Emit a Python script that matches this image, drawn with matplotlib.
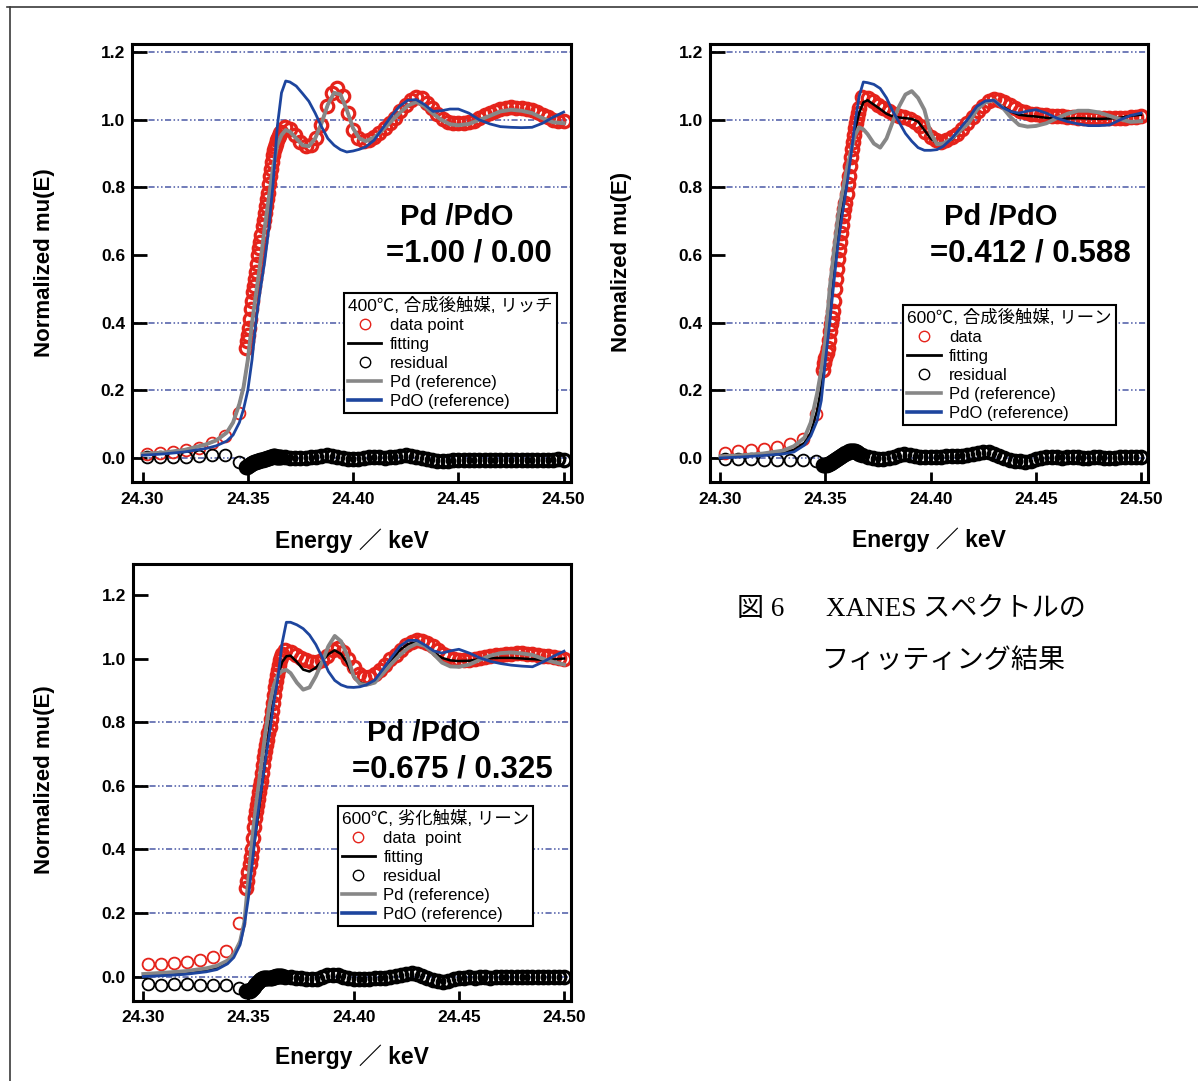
import matplotlib
matplotlib.use("Agg")
import matplotlib.pyplot as plt
from matplotlib import font_manager
from matplotlib.lines import Line2D

W, H = 1198, 1081
DPI = 100

# energy grid of the reference and fitting curves (keV)
E_LINE = [24.300, 24.310, 24.320, 24.330, 24.335, 24.340, 24.343, 24.346, 24.348,
          24.350, 24.352, 24.354, 24.356, 24.358, 24.360, 24.362, 24.364, 24.366, 24.368,
          24.370, 24.373, 24.376, 24.379, 24.382, 24.385, 24.388, 24.391, 24.394, 24.397,
          24.400, 24.403, 24.406, 24.410, 24.414, 24.418, 24.422, 24.426, 24.430, 24.434,
          24.438, 24.442, 24.446, 24.450, 24.455, 24.460, 24.465, 24.470, 24.475, 24.480,
          24.485, 24.490, 24.495, 24.500]

# energy points of the measured spectrum (pre-edge, edge, post-edge)
E_DATA = ([24.3022, 24.3084, 24.3146, 24.3208, 24.3270, 24.3332, 24.3394, 24.3456]
          + [24.3490, 24.3495, 24.3500, 24.3505, 24.3510, 24.3515, 24.3520, 24.3525, 24.3530, 24.3535,
             24.3540, 24.3545, 24.3550, 24.3555, 24.3560, 24.3565, 24.3570, 24.3575, 24.3580, 24.3585,
             24.3590, 24.3595, 24.3600, 24.3605, 24.3610, 24.3615, 24.3620, 24.3625, 24.3630, 24.3635,
             24.3640, 24.3645, 24.3650, 24.3655, 24.3660]
          + [24.3675, 24.3700, 24.3725, 24.3750, 24.3775, 24.3800, 24.3825, 24.3850, 24.3875, 24.3900,
             24.3925, 24.3950, 24.3975, 24.4000, 24.4025, 24.4050, 24.4075, 24.4100, 24.4125, 24.4150,
             24.4175, 24.4200, 24.4225, 24.4250, 24.4275, 24.4300, 24.4325, 24.4350, 24.4375, 24.4400,
             24.4425, 24.4450, 24.4475, 24.4500, 24.4525, 24.4550, 24.4575, 24.4600, 24.4625, 24.4650,
             24.4675, 24.4700, 24.4725, 24.4750, 24.4775, 24.4800, 24.4825, 24.4850, 24.4875, 24.4900,
             24.4925, 24.4950, 24.4975, 24.5000])
N_PRE = 8  # sparse pre-edge points before the dense scan

# ---- panel 1 : 400C, as-synthesised, rich ----
PD_1 = [0.012, 0.016, 0.024, 0.040, 0.052, 0.075, 0.105, 0.16, 0.21,
        0.29, 0.40, 0.49, 0.58, 0.68, 0.77, 0.86, 0.925, 0.955, 0.970,
        0.965, 0.945, 0.925, 0.922, 0.945, 0.99, 1.045, 1.08, 1.075, 1.03,
        0.975, 0.945, 0.937, 0.948, 0.97, 0.995, 1.02, 1.042, 1.053, 1.04,
        1.018, 1.0, 0.987, 0.984, 0.988, 1.0, 1.012, 1.025, 1.03, 1.027,
        1.02, 1.005, 0.993, 0.99]
PDO_1 = [0.008, 0.012, 0.018, 0.028, 0.036, 0.05, 0.068, 0.105, 0.145,
         0.20, 0.29, 0.41, 0.50, 0.58, 0.68, 0.81, 0.98, 1.08, 1.115,
         1.112, 1.10, 1.078, 1.055, 1.02, 0.98, 0.945, 0.925, 0.912, 0.905,
         0.908, 0.913, 0.92, 0.94, 0.975, 1.01, 1.04, 1.058, 1.06, 1.045,
         1.025, 1.027, 1.032, 1.032, 1.02, 1.0, 0.988, 0.98, 0.978, 0.977,
         0.978, 0.99, 1.008, 1.023]
FIT_1 = PD_1  # Pd/PdO = 1.00 / 0.00
DATA_1 = ([0.013, 0.016, 0.018, 0.023, 0.030, 0.045, 0.065, 0.133]
          + [0.325, 0.345, 0.365, 0.385, 0.41, 0.44, 0.465, 0.49, 0.51, 0.53,
             0.55, 0.575, 0.60, 0.62, 0.64, 0.66, 0.685, 0.705, 0.725, 0.745,
             0.765, 0.785, 0.81, 0.835, 0.855, 0.875, 0.895, 0.91, 0.92, 0.93,
             0.94, 0.945, 0.952, 0.96, 0.965]
          + [0.978, 0.972, 0.955, 0.935, 0.922, 0.925, 0.945, 0.985, 1.04, 1.08,
             1.095, 1.07, 1.02, 0.97, 0.945, 0.937, 0.94, 0.95, 0.962, 0.975,
             0.99, 1.005, 1.025, 1.045, 1.06, 1.068, 1.065, 1.05, 1.035, 1.018,
             1.003, 0.995, 0.99, 0.99, 0.99, 0.993, 0.998, 1.005, 1.013, 1.02,
             1.027, 1.032, 1.035, 1.037, 1.036, 1.035, 1.033, 1.028, 1.022, 1.015,
             1.008, 1.0, 0.996, 0.998])
RES_1 = ([0.003, 0.004, 0.004, 0.004, 0.005, 0.008, 0.010, -0.011]
         + [-0.028, -0.026, -0.024, -0.022, -0.02, -0.018, -0.016, -0.014, -0.013, -0.012,
            -0.011, -0.01, -0.009, -0.008, -0.007, -0.006, -0.005, -0.004, -0.003, -0.002,
            -0.001, 0.0, 0.001, 0.002, 0.003, 0.004, 0.005, 0.005, 0.005, 0.004,
            0.004, 0.003, 0.003, 0.003, 0.003]
         + [0.002, 0.001, 0.0, 0.0, 0.001, 0.002, 0.004, 0.007, 0.008, 0.006,
            0.003, 0.0, -0.002, -0.003, -0.002, 0.0, 0.002, 0.003, 0.002, 0.001,
            0.002, 0.004, 0.006, 0.008, 0.007, 0.004, 0.0, -0.004, -0.007, -0.009,
            -0.009, -0.008, -0.007, -0.006, -0.006, -0.005, -0.006, -0.005, -0.005, -0.006,
            -0.006, -0.005, -0.005, -0.006, -0.006, -0.005, -0.005, -0.006, -0.006, -0.005,
            -0.006, -0.005, -0.004, -0.005])

# ---- panel 2 : 600C, as-synthesised, lean ----
PD_2 = [0.005, 0.008, 0.013, 0.022, 0.035, 0.06, 0.105, 0.19, 0.26,
        0.35, 0.50, 0.61, 0.715, 0.785, 0.85, 0.905, 0.955, 0.978, 0.972,
        0.958, 0.93, 0.918, 0.945, 0.995, 1.04, 1.075, 1.085, 1.065, 1.03,
        0.96, 0.928, 0.93, 0.945, 0.968, 0.99, 1.03, 1.052, 1.058, 1.038,
        1.008, 0.985, 0.98, 0.982, 0.99, 1.005, 1.018, 1.027, 1.027, 1.022,
        1.012, 1.002, 0.994, 0.996]
PDO_2 = [0.0, 0.003, 0.007, 0.012, 0.018, 0.038, 0.065, 0.11, 0.17,
         0.29, 0.40, 0.52, 0.635, 0.72, 0.80, 0.89, 0.99, 1.07, 1.112,
         1.11, 1.105, 1.093, 1.065, 1.025, 0.993, 0.96, 0.937, 0.918, 0.91,
         0.91, 0.912, 0.922, 0.945, 0.975, 1.005, 1.04, 1.056, 1.058, 1.037,
         1.025, 1.02, 1.026, 1.03, 1.02, 1.005, 0.995, 0.988, 0.983, 0.983,
         0.985, 1.0, 1.013, 1.02]
FIT_2 = [0.003, 0.005, 0.009, 0.016, 0.024, 0.045, 0.075, 0.14, 0.21,
         0.33, 0.44, 0.545, 0.655, 0.745, 0.825, 0.905, 0.97, 1.02, 1.052,
         1.058, 1.045, 1.032, 1.018, 1.01, 1.007, 1.005, 1.003, 0.995, 0.97,
         0.945, 0.93, 0.93, 0.942, 0.965, 0.993, 1.03, 1.053, 1.058, 1.04,
         1.025, 1.015, 1.012, 1.01, 1.006, 1.003, 1.004, 1.005, 1.004, 1.003,
         1.004, 1.006, 1.012, 1.015]
DATA_2 = ([0.015, 0.022, 0.025, 0.028, 0.033, 0.042, 0.055, 0.13]
          + [0.26, 0.28, 0.295, 0.31, 0.325, 0.35, 0.375, 0.395, 0.415, 0.435,
             0.465, 0.50, 0.53, 0.56, 0.59, 0.615, 0.64, 0.665, 0.69, 0.715,
             0.735, 0.755, 0.78, 0.81, 0.835, 0.865, 0.89, 0.915, 0.935, 0.955,
             0.975, 0.99, 1.005, 1.02, 1.035]
          + [1.068, 1.065, 1.055, 1.045, 1.035, 1.025, 1.018, 1.012, 1.008, 1.003,
             0.995, 0.982, 0.965, 0.95, 0.94, 0.936, 0.94, 0.948, 0.958, 0.972,
             0.99, 1.008, 1.025, 1.042, 1.055, 1.062, 1.06, 1.052, 1.044, 1.035,
             1.027, 1.022, 1.018, 1.016, 1.015, 1.013, 1.012, 1.011, 1.01, 1.009,
             1.008, 1.007, 1.006, 1.006, 1.005, 1.005, 1.005, 1.006, 1.006, 1.006,
             1.007, 1.008, 1.009, 1.01])
RES_2 = ([-0.002, -0.004, -0.004, -0.005, -0.005, -0.005, -0.006, -0.008]
         + [-0.022, -0.022, -0.021, -0.02, -0.019, -0.018, -0.016, -0.014, -0.012, -0.01,
            -0.008, -0.006, -0.004, -0.002, 0.0, 0.002, 0.004, 0.006, 0.008, 0.01,
            0.012, 0.014, 0.016, 0.018, 0.02, 0.021, 0.022, 0.022, 0.022, 0.021,
            0.02, 0.019, 0.017, 0.015, 0.013]
         + [0.008, 0.004, 0.0, -0.002, -0.002, 0.0, 0.004, 0.009, 0.012, 0.01,
            0.006, 0.003, 0.002, 0.002, 0.003, 0.004, 0.005, 0.005, 0.005, 0.006,
            0.008, 0.011, 0.015, 0.018, 0.017, 0.013, 0.007, 0.0, -0.005, -0.008,
            -0.01, -0.011, -0.009, -0.004, 0.0, 0.002, 0.003, 0.002, 0.001, 0.002,
            0.003, 0.002, 0.0, 0.001, 0.002, 0.002, 0.001, 0.0, 0.001, 0.002,
            0.003, 0.002, 0.003, 0.004])

# ---- panel 3 : 600C, aged, lean ----
PD_3 = [0.008, 0.012, 0.017, 0.026, 0.034, 0.05, 0.07, 0.11, 0.17,
        0.31, 0.45, 0.56, 0.665, 0.765, 0.855, 0.915, 0.95, 0.962, 0.965,
        0.955, 0.925, 0.903, 0.91, 0.945, 0.99, 1.04, 1.072, 1.055, 1.01,
        0.945, 0.921, 0.918, 0.925, 0.955, 0.985, 1.012, 1.035, 1.048, 1.04,
        1.015, 0.988, 0.976, 0.975, 0.982, 0.997, 1.01, 1.018, 1.02, 1.017,
        1.012, 1.0, 0.99, 0.982]
PDO_3 = [0.0, 0.003, 0.007, 0.015, 0.022, 0.04, 0.06, 0.1, 0.16,
         0.25, 0.37, 0.49, 0.585, 0.68, 0.765, 0.86, 0.94, 1.05, 1.115,
         1.115, 1.107, 1.095, 1.075, 1.045, 1.005, 0.96, 0.932, 0.918, 0.911,
         0.91, 0.912, 0.918, 0.933, 0.968, 1.005, 1.04, 1.058, 1.058, 1.043,
         1.025, 1.018, 1.025, 1.03, 1.018, 1.003, 0.992, 0.985, 0.98, 0.977,
         0.975, 0.99, 1.008, 1.024]
FIT_3 = [0.005, 0.008, 0.012, 0.02, 0.027, 0.042, 0.065, 0.11, 0.17,
         0.28, 0.38, 0.48, 0.58, 0.685, 0.785, 0.875, 0.945, 0.99, 1.008,
         1.01, 0.99, 0.966, 0.96, 0.972, 0.993, 1.015, 1.027, 1.015, 0.985,
         0.945, 0.925, 0.919, 0.928, 0.962, 0.995, 1.028, 1.047, 1.052, 1.043,
         1.02, 1.003, 0.995, 0.993, 0.994, 0.999, 1.002, 1.003, 1.003, 1.001,
         0.999, 0.997, 0.998, 1.001]
DATA_3 = ([0.038, 0.04, 0.043, 0.047, 0.051, 0.06, 0.081, 0.168]
          + [0.28, 0.30, 0.33, 0.355, 0.375, 0.40, 0.435, 0.47, 0.50, 0.52,
             0.54, 0.56, 0.58, 0.60, 0.615, 0.64, 0.665, 0.69, 0.71, 0.73,
             0.745, 0.765, 0.785, 0.81, 0.835, 0.86, 0.885, 0.91, 0.93, 0.95,
             0.965, 0.98, 0.995, 1.005, 1.015]
          + [1.028, 1.022, 1.012, 1.003, 0.995, 0.99, 0.99, 0.996, 1.01, 1.028,
             1.033, 1.022, 1.0, 0.975, 0.952, 0.944, 0.944, 0.952, 0.965, 0.98,
             0.998, 1.012, 1.028, 1.042, 1.052, 1.058, 1.057, 1.05, 1.04, 1.028,
             1.016, 1.008, 1.0, 0.997, 0.996, 0.997, 0.999, 1.002, 1.005, 1.008,
             1.011, 1.013, 1.015, 1.016, 1.017, 1.017, 1.016, 1.014, 1.012, 1.01,
             1.008, 1.005, 1.003, 1.0])
RES_3 = ([-0.024, -0.026, -0.022, -0.025, -0.026, -0.026, -0.028, -0.037]
         + [-0.045, -0.046, -0.046, -0.045, -0.043, -0.04, -0.036, -0.032, -0.028, -0.024,
            -0.02, -0.017, -0.014, -0.011, -0.009, -0.007, -0.006, -0.005, -0.004, -0.004,
            -0.004, -0.004, -0.004, -0.004, -0.003, -0.002, -0.001, 0.0, 0.001, 0.002,
            0.003, 0.003, 0.003, 0.002, 0.001]
         + [0.0, -0.002, -0.004, -0.006, -0.008, -0.009, -0.007, -0.002, 0.004, 0.006,
            0.004, 0.0, -0.004, -0.007, -0.008, -0.008, -0.007, -0.006, -0.005, -0.004,
            -0.002, 0.001, 0.005, 0.009, 0.01, 0.007, 0.002, -0.004, -0.01, -0.014,
            -0.016, -0.014, -0.009, -0.005, -0.003, -0.002, -0.003, -0.002, -0.002, -0.003,
            -0.002, -0.001, -0.002, -0.002, -0.001, -0.002, -0.002, -0.001, -0.001, -0.002,
            -0.001, -0.001, 0.0, 0.0])

X_TICKS = [24.30, 24.35, 24.40, 24.45, 24.50]
Y_TICKS = [0.0, 0.2, 0.4, 0.6, 0.8, 1.0, 1.2]

RED = "#e5231b"
GRAY = "#878787"
BLUE = "#1d459e"
GRID = "#4a58a6"

installed = {f.name for f in font_manager.fontManager.ttflist}
TICK_FONT = "Liberation Sans Narrow" if "Liberation Sans Narrow" in installed else "Liberation Sans"
SANS_JP = ["Liberation Sans", "Noto Sans CJK JP", "DejaVu Sans"]
SERIF_JP = ["Liberation Serif", "Noto Sans CJK JP", "DejaVu Sans"]
plt.rcParams["font.family"] = SANS_JP


def fig_xy(x, y):
    # pixel position in the 1198x1081 picture -> figure fraction
    return x / W, 1 - y / H


panels = [
    dict(rect=(132, 43.8, 571, 482), ylim=(-0.071, 1.225), grid=[0.0, 0.2, 0.4, 0.8, 1.0, 1.2],
         pd=PD_1, pdo=PDO_1, fit=FIT_1, data=DATA_1, res=RES_1,
         ylabel="Normalized mu(E)", title="400℃, 合成後触媒, リッチ", data_label="data point",
         legend_at=(343.7, 293), ratio="=1.00 / 0.00", ratio_at=((400, 217), (386, 253)),
         xlabel_at=(352, 541), ylabel_at=(45, 263)),
    dict(rect=(709.8, 43.8, 1148.4, 482), ylim=(-0.071, 1.225), grid=[0.0, 0.2, 0.4, 0.8, 1.0, 1.2],
         pd=PD_2, pdo=PDO_2, fit=FIT_2, data=DATA_2, res=RES_2,
         ylabel="Nomalized mu(E)", title="600℃, 合成後触媒, リーン", data_label="data",
         legend_at=(903, 305), ratio="=0.412 / 0.588", ratio_at=((944, 217), (930, 253)),
         xlabel_at=(929, 540), ylabel_at=(621, 262)),
    dict(rect=(132.8, 563.5, 571.4, 1000.7), ylim=(-0.076, 1.30), grid=[0.0, 0.2, 0.4, 0.6, 0.8],
         pd=PD_3, pdo=PDO_3, fit=FIT_3, data=DATA_3, res=RES_3,
         ylabel="Normalized mu(E)", title="600℃, 劣化触媒, リーン", data_label="data  point",
         legend_at=(337.5, 805.7), ratio="=0.675 / 0.325", ratio_at=((367, 733), (352, 769.5)),
         xlabel_at=(352, 1057), ylabel_at=(45, 780)),
]

fig = plt.figure(figsize=(W / DPI, H / DPI), dpi=DPI)

for p in panels:
    x0, y0, x1, y1 = p["rect"]
    ax = fig.add_axes([x0 / W, 1 - y1 / H, (x1 - x0) / W, (y1 - y0) / H])

    for lvl in p["grid"]:
        ax.axhline(lvl, color=GRID, lw=1.1, ls=(0, (4, 1.6, 1, 1.6, 1, 1.6)), zorder=0.5)

    # sparse pre-edge points: thin open circles; dense scan: heavier rings that merge into a band
    for series, col in ((p["data"], RED), (p["res"], "black")):
        ax.plot(E_DATA[:N_PRE], series[:N_PRE], ls="none", marker="o", ms=8.5, mfc="none",
                mec=col, mew=1.3, zorder=2)
        ax.plot(E_DATA[N_PRE:], series[N_PRE:], ls="none", marker="o", ms=9, mfc="none",
                mec=col, mew=2.3, zorder=2)
    ax.plot(E_LINE, p["fit"], color="black", lw=1.8, zorder=3)
    ax.plot(E_LINE, p["pd"], color=GRAY, lw=2.8, zorder=4)
    ax.plot(E_LINE, p["pdo"], color=BLUE, lw=2.0, zorder=5)

    ax.set_xlim(24.295, 24.5035)
    ax.set_ylim(*p["ylim"])
    ax.set_xticks(X_TICKS, [f"{v:.2f}" for v in X_TICKS],
                  fontfamily=TICK_FONT, fontweight="bold", fontsize=12.5)
    ax.set_yticks(Y_TICKS, [f"{v:.1f}" for v in Y_TICKS],
                  fontfamily=TICK_FONT, fontweight="bold", fontsize=12.5)
    ax.tick_params(axis="both", direction="in", width=2, color="black")
    ax.tick_params(axis="y", length=11, pad=5)
    ax.tick_params(axis="x", length=7.5, pad=7)
    for s in ax.spines.values():
        s.set_linewidth(2.2)

    ax.set_xlabel("Energy ／ keV", fontsize=16.5, fontweight="bold", va="center")
    ax.xaxis.set_label_coords(*fig_xy(*p["xlabel_at"]), transform=fig.transFigure)
    ax.set_ylabel(p["ylabel"], fontsize=16, fontweight="bold", va="center")
    ax.yaxis.set_label_coords(*fig_xy(*p["ylabel_at"]), transform=fig.transFigure)

    # legend keys drawn a little smaller than the plotted circles, as in the original
    handles = [Line2D([], [], ls="none", marker="o", ms=7.5, mfc="none", mec=RED, mew=1.0),
               Line2D([], [], color="black", lw=2.0),
               Line2D([], [], ls="none", marker="o", ms=7.5, mfc="none", mec="black", mew=1.0),
               Line2D([], [], color=GRAY, lw=2.6),
               Line2D([], [], color=BLUE, lw=2.6)]
    leg = ax.legend(handles,
                    [p["data_label"], "fitting", "residual", "Pd (reference)", "PdO (reference)"],
                    title=p["title"], alignment="left",
                    loc="upper left", bbox_to_anchor=fig_xy(*p["legend_at"]),
                    bbox_transform=fig.transFigure, borderaxespad=0,
                    prop={"family": SANS_JP, "size": 12},
                    title_fontproperties={"family": SANS_JP, "size": 12.5},
                    handlelength=2.0, handletextpad=0.5, labelspacing=0.24,
                    borderpad=0.25, fancybox=False, framealpha=1, edgecolor="black")
    leg.get_frame().set_linewidth(1.5)
    leg.set_zorder(10)

    (tx1, ty1), (tx2, ty2) = p["ratio_at"]
    fig.text(*fig_xy(tx1, ty1), "Pd /PdO", fontsize=21, fontweight="bold",
             ha="left", va="center")
    fig.text(*fig_xy(tx2, ty2), p["ratio"], fontsize=22.5, fontweight="bold",
             ha="left", va="center")

# caption
fig.text(*fig_xy(737, 609), "図 6", fontsize=19.5, family=SERIF_JP, ha="left", va="center")
fig.text(*fig_xy(826, 609), "XANES スペクトルの", fontsize=19.5, family=SERIF_JP, ha="left", va="center")
fig.text(*fig_xy(821, 661), "フィッティング結果", fontsize=19.5, family=SERIF_JP, ha="left", va="center")

# page frame (top and left edges)
fig.add_artist(Line2D([7 / W, 1], [1 - 7 / H, 1 - 7 / H], transform=fig.transFigure,
                      color="#3a3a3a", lw=1.2))
fig.add_artist(Line2D([9.5 / W, 9.5 / W], [1 - 7 / H, 0], transform=fig.transFigure,
                      color="#3a3a3a", lw=1.2))

fig.savefig("out.png", dpi=DPI)
